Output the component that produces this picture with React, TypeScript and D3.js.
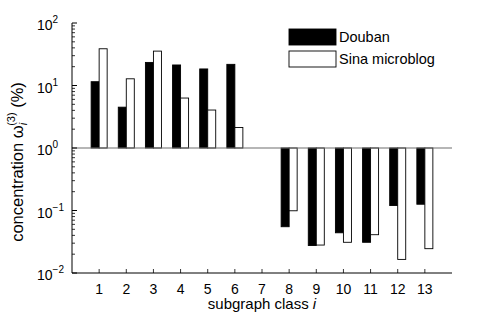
import React, { useEffect, useRef } from 'react';
import * as d3 from 'd3';

// subgraph classes on the x axis
const categories = [1, 2, 3, 4, 5, 6, 7, 8, 9, 10, 11, 12, 13];
// concentration (%) per class
const doubanValues = [11.5, 4.5, 23.4, 21.3, 18.4, 21.8, 1, 0.055, 0.0275, 0.044, 0.031, 0.12, 0.126];
const sinaValues = [38.7, 12.8, 35.5, 6.3, 4.05, 2.13, 1, 0.099, 0.028, 0.031, 0.041, 0.0165, 0.0245];
const yTickExponents = ['\u22122', '\u22121', '0', '1', '2'];
const yTickValues = [0.01, 0.1, 1, 10, 100];
const seriesNames = ['Douban', 'Sina microblog'];

const W = 498, H = 316;
const margin = { top: 23, right: 46, bottom: 43, left: 72 };
const FONT = 'Liberation Sans, Arial, Helvetica, sans-serif';

export default function App() {
  const ref = useRef<SVGSVGElement>(null);

  useEffect(() => {
    const svg = d3.select(ref.current);
    svg.selectAll('*').remove();

    const x = d3.scaleLinear().domain([0, 14]).range([margin.left, W - margin.right]);
    const y = d3.scaleLog().domain([0.01, 100]).range([H - margin.bottom, margin.top]);
    const bw = x(0.295) - x(0);
    const base = y(1);

    const g = svg.append('g');

    // bars, drawn from the 10^0 baseline
    const drawBars = (vals: number[], fill: string, offset: number) => {
      g.selectAll(null)
        .data(vals)
        .enter()
        .append('rect')
        .attr('x', (d, i) => x(categories[i]) + offset)
        .attr('y', d => Math.min(base, y(d)))
        .attr('width', bw)
        .attr('height', d => Math.abs(y(d) - base))
        .attr('fill', fill)
        .attr('stroke', '#000')
        .attr('stroke-width', 0.9);
    };
    drawBars(doubanValues, '#000', -bw);
    drawBars(sinaValues, '#fff', 0);

    // baseline at 1
    g.append('line')
      .attr('x1', x(0)).attr('x2', x(14))
      .attr('y1', base).attr('y2', base)
      .attr('stroke', '#6e6e6e').attr('stroke-width', 1.2);

    // axes
    g.append('line')
      .attr('x1', x(0)).attr('x2', x(0))
      .attr('y1', y(100)).attr('y2', y(0.01))
      .attr('stroke', '#000');
    g.append('line')
      .attr('x1', x(0)).attr('x2', x(14))
      .attr('y1', y(0.01)).attr('y2', y(0.01))
      .attr('stroke', '#000');

    // y ticks (major + minor), pointing inward
    const minor: number[] = [];
    for (let k = -2; k < 2; k++) for (let m = 2; m <= 9; m++) minor.push(m * Math.pow(10, k));
    g.selectAll(null).data(minor).enter().append('line')
      .attr('x1', x(0)).attr('x2', x(0) + 3)
      .attr('y1', d => y(d)).attr('y2', d => y(d))
      .attr('stroke', '#000').attr('stroke-width', 0.8);
    g.selectAll(null).data(yTickValues).enter().append('line')
      .attr('x1', x(0)).attr('x2', x(0) + 5)
      .attr('y1', d => y(d)).attr('y2', d => y(d))
      .attr('stroke', '#000');

    // y tick labels
    const yl = g.selectAll(null).data(yTickValues).enter().append('text')
      .attr('x', 37)
      .attr('y', d => y(d) + 7)
      .attr('font-family', FONT)
      .attr('font-size', 14)
      .attr('fill', '#000');
    yl.append('tspan').text('10');
    yl.append('tspan')
      .attr('dy', -7)
      .attr('font-size', 10)
      .text((d, i) => yTickExponents[i]);

    // x ticks + labels
    g.selectAll(null).data(categories).enter().append('line')
      .attr('x1', d => x(d)).attr('x2', d => x(d))
      .attr('y1', y(0.01)).attr('y2', y(0.01) - 4)
      .attr('stroke', '#000').attr('stroke-width', 0.8);
    g.selectAll(null).data(categories).enter().append('text')
      .attr('x', d => x(d))
      .attr('y', y(0.01) + 20.5)
      .attr('text-anchor', 'middle')
      .attr('font-family', FONT)
      .attr('font-size', 14)
      .text(d => d);

    // axis labels
    const xl = g.append('text')
      .attr('x', (x(0) + x(14)) / 2)
      .attr('y', 309)
      .attr('text-anchor', 'middle')
      .attr('font-family', FONT)
      .attr('font-size', 15);
    xl.append('tspan').text('subgraph class ');
    xl.append('tspan').attr('font-style', 'italic').text('i');

    const ylab = g.append('text')
      .attr('transform', `translate(23,${base + 14}) rotate(-90)`)
      .attr('text-anchor', 'middle')
      .attr('font-family', FONT)
      .attr('font-size', 16.5);
    ylab.append('tspan').text('concentration \u03c9');
    ylab.append('tspan').attr('dy', 4).attr('font-size', 11).attr('font-style', 'italic').text('i');
    ylab.append('tspan').attr('dx', -3).attr('dy', -12).attr('font-size', 11).text('(3)');
    ylab.append('tspan').attr('dy', 8).text(' (%)');

    // legend
    const lg = g.append('g').attr('transform', 'translate(289,29)');
    seriesNames.forEach((name, i) => {
      lg.append('rect')
        .attr('x', 0).attr('y', i * 22)
        .attr('width', 47).attr('height', 16)
        .attr('fill', i === 0 ? '#000' : '#fff')
        .attr('stroke', '#000').attr('stroke-width', 0.9);
      lg.append('text')
        .attr('x', 50).attr('y', i * 22 + 13)
        .attr('font-family', FONT)
        .attr('font-size', 14.5)
        .text(name);
    });
  }, []);

  return (
    <svg ref={ref} width={W} height={H}
      style={{ position: 'absolute', left: 0, top: 0, background: '#fff' }} />
  );
}
